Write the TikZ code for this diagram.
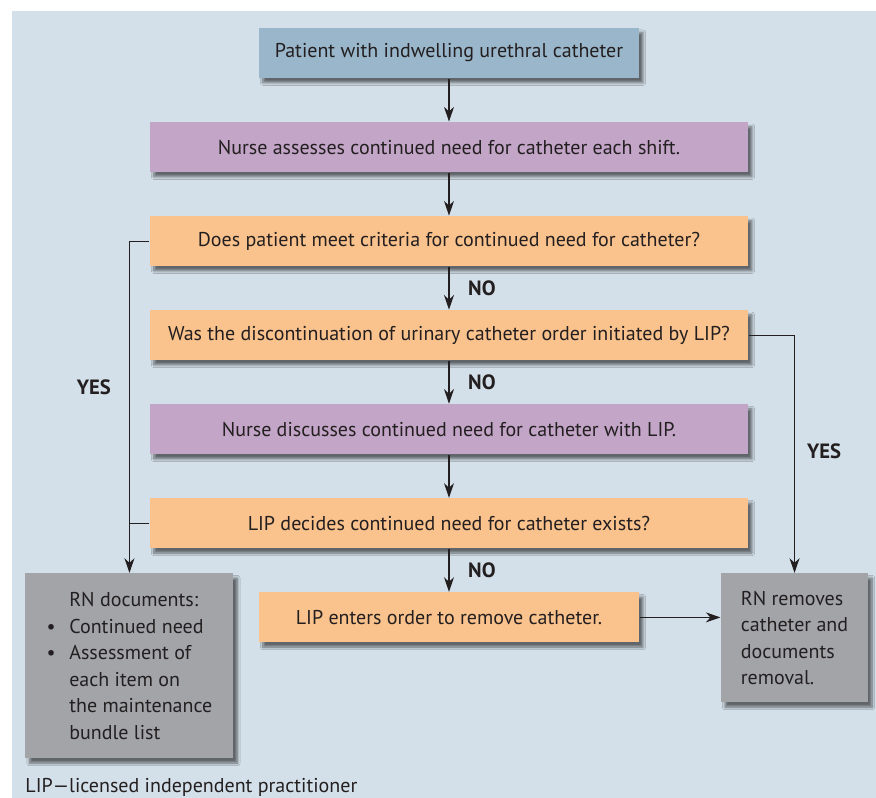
\documentclass[tikz,border=0pt]{standalone}
\usepackage{fontspec}
\setmainfont{PT Sans}
\usetikzlibrary{%
  arrows.meta,%
  positioning,% wg. " of "
  shadows.blur%
}
\definecolor{bgblue}{RGB}{212,224,233}
\definecolor{startblue}{RGB}{154,182,203}
\definecolor{nursepurple}{RGB}{195,165,199}
\definecolor{askorange}{RGB}{250,194,140}
\definecolor{rngrey}{RGB}{162,164,168}
\definecolor{inkdark}{RGB}{35,31,32}
\newcommand{\rnbullet}{\makebox[17pt][l]{\textbullet}}
\newcommand{\rnindent}{\hspace*{17pt}}

\begin{document}
\begin{tikzpicture}
    [   >={Stealth[length=11pt,width=7.5pt,inset=3.5pt]}
    ,   line width=0.8pt
    ,   draw=inkdark
    ,   text=inkdark
    ,   node distance=32.25pt
    ,   font=\fontsize{15}{19.9}\selectfont
    ,   box/.style=
            {   % The shape:
                rectangle
            ,   minimum height=37.5pt
            ,   inner sep=0pt
            ,   align=center
            ,   % The rest
                blur shadow={shadow xshift=3pt,shadow yshift=-3.5pt,shadow blur steps=8,shadow opacity=55}
            }
    ,   start/.style={box,fill=startblue,minimum width=285pt}
    ,   nurse/.style={box,fill=nursepurple,minimum width=448.5pt}
    ,   ask/.style={box,fill=askorange,minimum width=448.5pt}
    ,   rn/.style={box,fill=rngrey,align=left}
    ,   answer/.style={inner sep=0pt,font=\fontsize{15.5}{19.9}\selectfont\bfseries}
    ,   note/.style={inner sep=0pt,anchor=north west}
    ]

    \useasboundingbox (-336.75pt,39.75pt) rectangle (320.25pt,-558.75pt);
    \fill[bgblue] (-327.75pt,31.5pt) rectangle (320.25pt,-558.75pt);

    \node[start](pat) at (0,0){Patient with indwelling urethral catheter};
    \node[nurse,below=of pat](assess){Nurse assesses continued need for catheter each shift.};
    \node[ask,below=of assess](crit){Does patient meet criteria for continued need for catheter?};
    \node[ask,below=of crit](lip){Was the discontinuation of urinary catheter order initiated by LIP?};
    \node[nurse,below=of lip](disc){Nurse discusses continued need for catheter with LIP.};
    \node[ask,below=of disc](decide){LIP decides continued need for catheter exists?};
    \node[ask,below=of decide,minimum width=285pt](order){LIP enters order to remove catheter.};
    \node[rn,below=18pt of decide.south west,xshift=-15pt,minimum width=156pt,minimum height=138.75pt](doc)
        {\rnindent RN documents:\\ \rnbullet Continued need\\ \rnbullet Assessment of\\
         \rnindent each item on\\ \rnindent the maintenance\\ \rnindent bundle list};
    \node[rn,below=18pt of decide.south east,xshift=34.5pt,minimum width=110.25pt,minimum height=96.75pt](rem)
        {RN removes\\ catheter and\\ documents\\ removal.};
    \node[note,below right=14pt and 0pt of doc.south west](key){LIP---licensed independent practitioner};

    \draw[->](pat)--(assess);
    \draw[->](assess)--(crit);
    \draw[->](crit)--(lip) node[answer,midway,right=14pt]{NO};
    \draw[->](lip)--(disc) node[answer,midway,right=14pt]{NO};
    \draw[->](disc)--(decide);
    \draw[->](decide)--(order) node[answer,midway,right=14pt]{NO};
    \draw[->](order.east)--(order.east -| rem.west);
    \draw[->](crit.west)-|(doc.north) node[answer,pos=0.72,left=13.5pt]{YES};
    \draw(decide.west)--(decide.west -| doc.north);
    \draw[->](lip.east)-|(rem.north) node[answer,pos=0.745,right=9pt]{YES};
\end{tikzpicture}
\end{document}
